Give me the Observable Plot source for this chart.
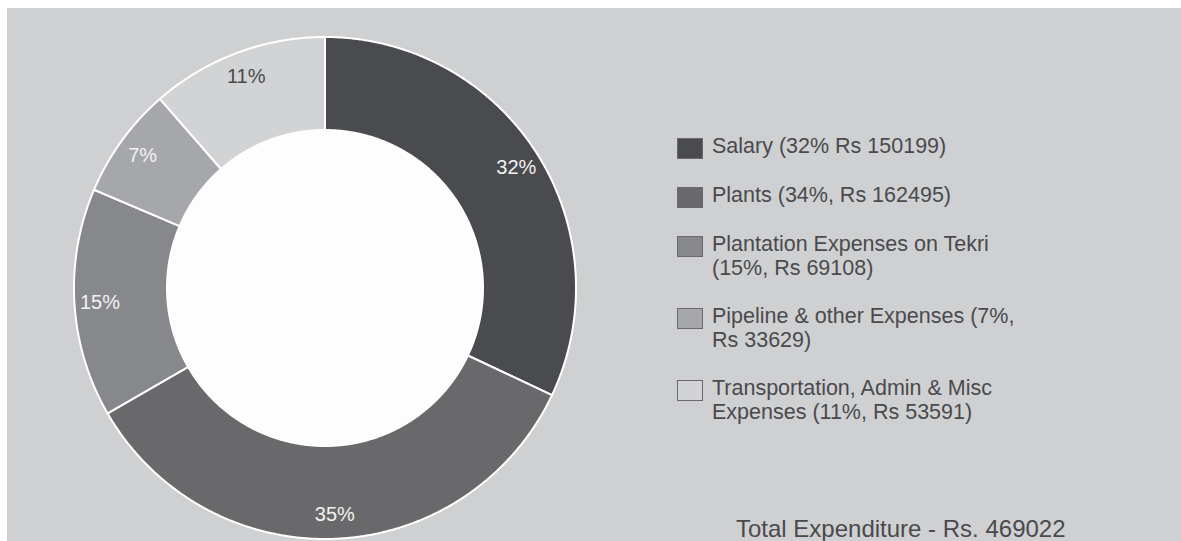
<!DOCTYPE html>
<html>
<head>
<meta charset="utf-8">
<script src="https://cdn.jsdelivr.net/npm/d3@7"></script>
<script src="https://cdn.jsdelivr.net/npm/@observablehq/plot@0.6"></script>
<style>
  html, body { margin: 0; padding: 0; background: #ffffff; }
  body { width: 1181px; height: 541px; position: relative; overflow: hidden;
         font-family: "Liberation Sans", Arial, Helvetica, sans-serif; }
  #panel { position: absolute; left: 7px; top: 8px; width: 1174px; height: 533px;
           background: #cfd0d2; overflow: hidden; }
  #chart { position: absolute; left: 0; top: 0; }
  #legend { position: absolute; left: 670px; top: 126px; }
  .item { display: flex; align-items: flex-start; margin-bottom: 24px; }
  .sw { width: 24px; height: 19px; margin-top: 4px; border: 1px solid #6a6a6d; flex: none; }
  .lab { margin-left: 9px; font-size: 21.5px; line-height: 24px; color: #4a4a4c;
         white-space: pre-line; }
  #total { position: absolute; left: 729px; top: 509px; font-size: 24px; line-height: 24px;
           color: #4a4a4c; white-space: nowrap; }
</style>
</head>
<body>
<div id="panel">
  <div id="chart"></div>
  <div id="legend"></div>
  <div id="total"></div>
</div>
<script>
// ---- data ----
const categories = ["Salary", "Plants", "Plantation Expenses on Tekri", "Pipeline & other Expenses", "Transportation, Admin & Misc Expenses"];
const amounts = [150199, 162495, 69108, 33629, 53591];
const sliceLabels = ["32%", "35%", "15%", "7%", "11%"];
const legendLabels = [
  "Salary (32% Rs 150199)",
  "Plants (34%, Rs 162495)",
  "Plantation Expenses on Tekri\n(15%, Rs 69108)",
  "Pipeline & other Expenses (7%,\nRs 33629)",
  "Transportation, Admin & Misc\nExpenses (11%, Rs 53591)"
];
const totalLabel = "Total Expenditure - Rs. 469022";

// ---- styles ----
const sliceColors = ["#4a4b4e", "#69696c", "#87888b", "#a6a7aa", "#d2d3d5"];
const labelColors = ["#f2f2f2", "#f2f2f2", "#f2f2f2", "#f2f2f2", "#4a4a4c"];
const innerRatio = 158 / 251;
const labelRatio = 0.9;

// ---- geometry from d3.pie ----
const arcs = d3.pie().sort(null).value(d => d.amount)(
  categories.map((c, i) => ({cat: c, amount: amounts[i], label: sliceLabels[i], lc: labelColors[i]}))
);
const ringPts = [];
for (const a of arcs) {
  const n = Math.max(2, Math.ceil((a.endAngle - a.startAngle) / 0.005));
  for (let k = 0; k <= n; k++) {
    const t = a.startAngle + (a.endAngle - a.startAngle) * k / n;
    const s = Math.sin(t), c = Math.cos(t);
    ringPts.push({cat: a.data.cat, xo: s, yo: c, xi: s * innerRatio, yi: c * innerRatio});
  }
}
const holePts = d3.range(0, 361).map(k => {
  const t = k * Math.PI / 180;
  return {x1: Math.sin(t) * innerRatio, y1: Math.cos(t) * innerRatio, x2: 0, y2: 0};
});
const labelPts = arcs.map(a => {
  const m = (a.startAngle + a.endAngle) / 2;
  return {x: Math.sin(m) * labelRatio, y: Math.cos(m) * labelRatio, text: a.data.label, fill: a.data.lc};
});

const R = 251, cx = 318, cy = 280;
const plot = Plot.plot({
  width: 640,
  height: 533,
  margin: 0,
  x: {domain: [-1, 1], range: [cx - R, cx + R], axis: null},
  y: {domain: [-1, 1], range: [cy + R, cy - R], axis: null},
  color: {domain: categories, range: sliceColors},
  style: {background: "transparent", fontFamily: "'Liberation Sans', Arial, sans-serif"},
  marks: [
    Plot.area(ringPts, {x1: "xo", y1: "yo", x2: "xi", y2: "yi", z: "cat", fill: "cat",
                        stroke: "#ffffff", strokeWidth: 2, curve: "linear"}),
    Plot.area(holePts, {x1: "x1", y1: "y1", x2: "x2", y2: "y2", fill: "#fdfdfd", curve: "linear"}),
    Plot.text(labelPts, {x: "x", y: "y", text: "text", fill: d => d.fill, fontSize: 20})
  ]
});
document.getElementById("chart").appendChild(plot);

// ---- legend ----
const legend = document.getElementById("legend");
categories.forEach((c, i) => {
  const item = document.createElement("div");
  item.className = "item";
  const sw = document.createElement("div");
  sw.className = "sw";
  sw.style.background = sliceColors[i];
  const lab = document.createElement("div");
  lab.className = "lab";
  lab.textContent = legendLabels[i];
  item.appendChild(sw);
  item.appendChild(lab);
  legend.appendChild(item);
});
document.getElementById("total").textContent = totalLabel;
</script>
</body>
</html>
